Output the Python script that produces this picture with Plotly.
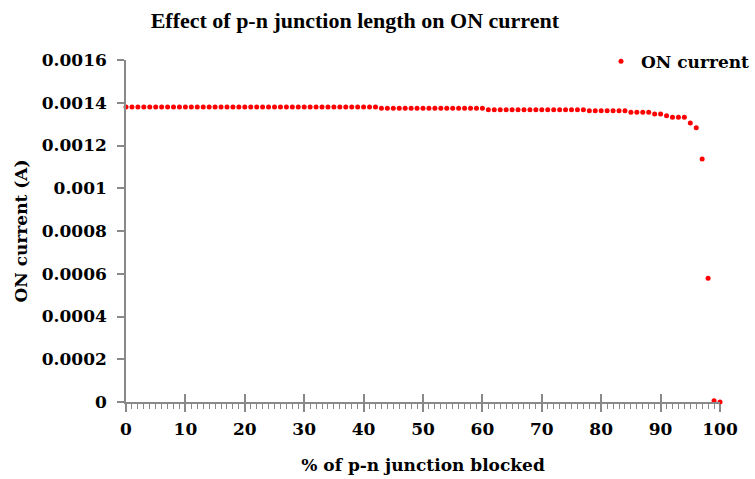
import plotly.graph_objects as go

# % of p-n junction blocked
blocked = list(range(0, 101))

# ON current (A)
on_current = (
    [0.001380] * 43            # 0..42
    + [0.001374] * 18          # 43..60
    + [0.001367] * 17          # 61..77
    + [0.001362] * 7           # 78..84
    + [0.001355] * 4           # 85..88
    + [0.001347] * 2           # 89..90
    + [0.001339]               # 91
    + [0.001332] * 3           # 92..94
    + [0.001305, 0.001283, 0.001137, 0.000579, 0.000006, 0.0]  # 95..100
)

y_tickvals = [0, 0.0002, 0.0004, 0.0006, 0.0008, 0.001, 0.0012, 0.0014, 0.0016]
y_ticktext = ["0", "0.0002", "0.0004", "0.0006", "0.0008", "0.001", "0.0012", "0.0014", "0.0016"]
x_tickvals = [0, 10, 20, 30, 40, 50, 60, 70, 80, 90, 100]
x_ticktext = ["0", "10", "20", "30", "40", "50", "60", "70", "80", "90", "100"]

TITLE_FONT = "Liberation Serif"
FONT = "DejaVu Serif"
FS = 17
AX = "#898989"

fig = go.Figure()
fig.add_trace(go.Scatter(
    x=blocked, y=on_current, mode="markers", name="<b>ON current</b>",
    marker=dict(color="#ff0000", size=5), cliponaxis=False,
))
# helper trace for crossing major ticks
fig.add_trace(go.Scatter(x=[None], y=[None], xaxis="x2", showlegend=False))

fig.update_layout(
    width=755, height=479,
    margin=dict(l=126, r=35, t=60, b=77, autoexpand=False),
    paper_bgcolor="white", plot_bgcolor="white",
    font=dict(family=FONT, size=FS, color="black"),
    title=dict(text="<b>Effect of p-n junction length on ON current</b>",
               x=0.47, xanchor="center", y=0.958, yanchor="middle",
               font=dict(family=TITLE_FONT, size=22, color="black")),
    showlegend=True,
    legend=dict(x=1.0, xanchor="right", y=0.871, yanchor="middle",
                yref="container", xref="container",
                bgcolor="rgba(0,0,0,0)", font=dict(family=FONT, size=FS, color="black"),
                itemwidth=30, tracegroupgap=0, borderwidth=0),
    xaxis=dict(
        range=[0, 100], tickvals=x_tickvals, ticktext=["<b>%s</b>" % t for t in x_ticktext],
        showgrid=False, zeroline=False,
        showline=True, linecolor=AX, linewidth=1.5, automargin=False,
        ticks="outside", ticklen=8, tickcolor=AX, tickwidth=1.5,
        minor=dict(dtick=1, ticks="outside", ticklen=5, tickcolor=AX, tickwidth=1, showgrid=False),
        tickfont=dict(family=FONT, size=FS, color="black"),
        ticklabelstandoff=3,
        title=dict(text="<b>% of p-n junction blocked</b>", standoff=21,
                   font=dict(family=FONT, size=FS, color="black")),
    ),
    xaxis2=dict(
        range=[0, 100], overlaying="x", tickvals=x_tickvals, showticklabels=False,
        ticks="inside", ticklen=8, tickcolor=AX, tickwidth=1.5, side="bottom",
        showgrid=False, zeroline=False, showline=False, automargin=False,
    ),
    yaxis=dict(
        range=[0, 0.0016], tickvals=y_tickvals, ticktext=["<b>%s</b>" % t for t in y_ticktext],
        showgrid=False, zeroline=False, automargin=False,
        showline=True, linecolor=AX, linewidth=1.5,
        ticks="outside", ticklen=7, tickcolor=AX, tickwidth=1.5,
        tickfont=dict(family=FONT, size=FS, color="black"),
        ticklabelstandoff=7,
        title=dict(text="<b>ON current (A)</b>", standoff=10,
                   font=dict(family=FONT, size=FS, color="black")),
    ),
)

fig.write_html("out.html")
